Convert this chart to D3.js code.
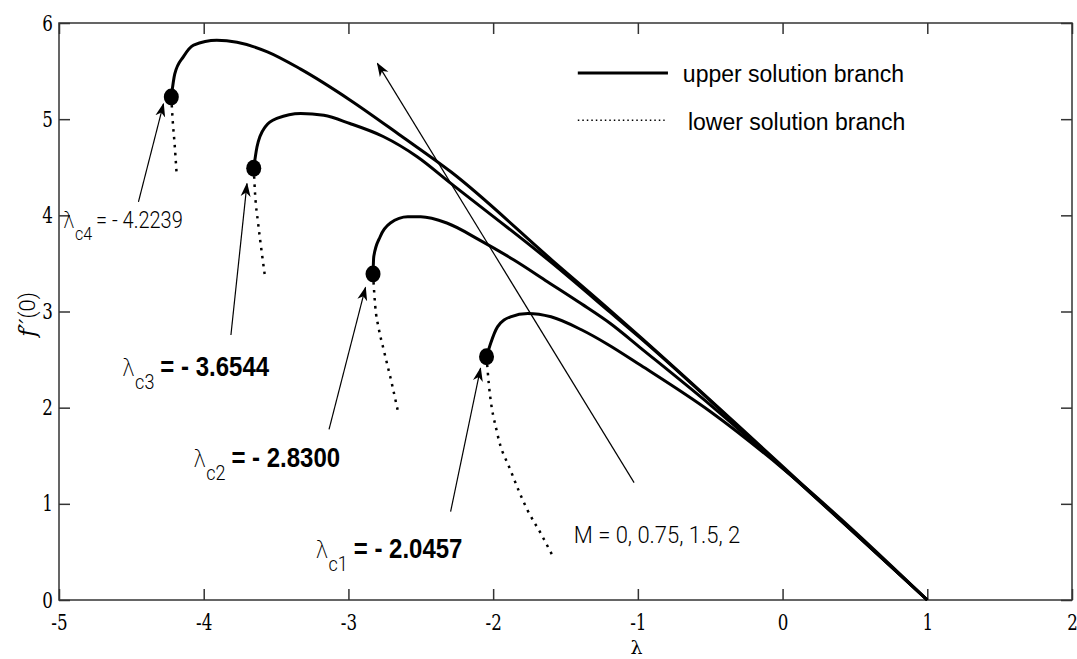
<!DOCTYPE html>
<html>
<head>
<meta charset="utf-8">
<script src="https://cdn.jsdelivr.net/npm/d3@7"></script>
<style>
    body { margin: 0; background: #fff; }
</style>
</head>
<body>
<svg id="chart"></svg>
<script>
// tick values
const lambdaTicks = [-5, -4, -3, -2, -1, 0, 1, 2];
const fppTicks = [0, 1, 2, 3, 4, 5, 6];

// upper solution branches [lambda, f''(0)]
const upperM0 = [[-2.0457, 2.53], [-2.017, 2.67], [-1.97, 2.84], [-1.88, 2.945], [-1.76, 2.98], [-1.60, 2.945],
    [-1.39, 2.81], [-1.21, 2.66], [-0.98, 2.44], [-0.5, 1.96], [0, 1.37], [1, 0]];
const upperM075 = [[-2.83, 3.39], [-2.825, 3.57], [-2.78, 3.78], [-2.71, 3.92], [-2.59, 3.985], [-2.50, 3.985],
    [-2.32, 3.92], [-2.09, 3.74], [-1.856, 3.535], [-1.625, 3.31], [-1.39, 3.08], [-1.19, 2.875], [-0.98, 2.62],
    [-0.5, 2.03], [0, 1.375], [1, 0]];
const upperM15 = [[-3.6544, 4.49], [-3.632, 4.71], [-3.575, 4.92], [-3.49, 5.01], [-3.33, 5.06], [-3.17, 5.04],
    [-2.99, 4.955], [-2.76, 4.82], [-2.525, 4.61], [-2.29, 4.33], [-1.59, 3.50], [-1.19, 2.99], [-0.98, 2.72],
    [0, 1.38], [1, 0]];
const upperM2 = [[-4.2239, 5.23], [-4.20, 5.47], [-4.14, 5.65], [-4.07, 5.77], [-3.91, 5.82], [-3.77, 5.80],
    [-3.56, 5.70], [-3.33, 5.52], [-2.99, 5.20], [-2.64, 4.83], [-2.29, 4.45], [-1.59, 3.53], [-1.19, 3.01],
    [-0.98, 2.73], [0, 1.39], [1, 0]];

// lower solution branches
const lowerM0 = [[-2.0457, 2.53], [-2.03, 2.25], [-1.971, 1.73], [-1.88, 1.35], [-1.763, 0.936], [-1.67, 0.69], [-1.579, 0.43]];
const lowerM075 = [[-2.83, 3.39], [-2.815, 3.06], [-2.79, 2.82], [-2.756, 2.60], [-2.70, 2.25], [-2.652, 1.92]];
const lowerM15 = [[-3.6544, 4.49], [-3.645, 4.22], [-3.625, 3.93], [-3.602, 3.65], [-3.579, 3.39]];
const lowerM2 = [[-4.2239, 5.23], [-4.215, 5.0], [-4.20, 4.72], [-4.188, 4.45]];

// critical points
const critNames = ['c1', 'c2', 'c3', 'c4'];
const critLambda = [-2.0457, -2.8300, -3.6544, -4.2239];
const critF = [2.53, 3.39, 4.49, 5.23];
const critText = ['= - 2.0457', '= - 2.8300', '= - 3.6544', '= - 4.2239'];

const width = 1077;
const height = 659;
const margin = { top: 23, right: 5, bottom: 59, left: 59 };

const serif = '"DejaVu Serif", serif';
const sans = '"Liberation Sans", Arial, sans-serif';
const light = 'Roboto, "Liberation Sans", sans-serif';

const svg = d3.select('#chart')
    .attr('width', width)
    .attr('height', height);

const x = d3.scaleLinear().domain([-5, 2]).range([margin.left, width - margin.right]);
const y = d3.scaleLinear().domain([0, 6]).range([height - margin.bottom, margin.top]);

// arrow marker
svg.append('defs')
    .append('marker')
    .attr('id', 'head')
    .attr('markerUnits', 'userSpaceOnUse')
    .attr('viewBox', '0 -6 14 12')
    .attr('refX', 13)
    .attr('refY', 0)
    .attr('markerWidth', 14)
    .attr('markerHeight', 12)
    .attr('orient', 'auto')
    .append('path')
    .attr('d', 'M0,-5L14,0L0,5L4,0Z')
    .attr('fill', '#000');

// axes with inward ticks; labels are narrow Times-like digits
const axisColor = '#333';
function styleAxis(g) {
    g.attr('font-family', serif).attr('font-size', 22);
    g.select('.domain').remove();
    g.selectAll('line').attr('stroke', axisColor).attr('stroke-width', 1.5);
    g.selectAll('text').attr('fill', '#000').attr('transform', 'scale(0.76,1)');
}

const fmt = d => String(d);

svg.append('g')
    .attr('transform', `translate(0,${y(0)})`)
    .call(d3.axisBottom(x).tickValues(lambdaTicks).tickSize(-11).tickPadding(14).tickFormat(fmt))
    .call(styleAxis);

svg.append('g')
    .attr('transform', `translate(0,${y(6)})`)
    .call(d3.axisTop(x).tickValues(lambdaTicks).tickSize(-11).tickFormat(''))
    .call(styleAxis);

svg.append('g')
    .attr('transform', `translate(${x(-5)},0)`)
    .call(d3.axisLeft(y).tickValues(fppTicks).tickSize(-11).tickPadding(8).tickFormat(fmt))
    .call(styleAxis);

svg.append('g')
    .attr('transform', `translate(${x(2)},0)`)
    .call(d3.axisRight(y).tickValues(fppTicks).tickSize(-11).tickFormat(''))
    .call(styleAxis);

svg.append('rect')
    .attr('x', x(-5))
    .attr('y', y(6))
    .attr('width', x(2) - x(-5))
    .attr('height', y(0) - y(6))
    .attr('fill', 'none')
    .attr('stroke', axisColor)
    .attr('stroke-width', 1.5);

// curves
const line = d3.line()
    .x(d => x(d[0]))
    .y(d => y(d[1]))
    .curve(d3.curveMonotoneX);

const plot = svg.append('g');

plot.selectAll('path.upper')
    .data([upperM0, upperM075, upperM15, upperM2])
    .join('path')
    .attr('class', 'upper')
    .attr('d', line)
    .attr('fill', 'none')
    .attr('stroke', '#000')
    .attr('stroke-width', 3);

plot.selectAll('path.lower')
    .data([lowerM0, lowerM075, lowerM15, lowerM2])
    .join('path')
    .attr('class', 'lower')
    .attr('d', line)
    .attr('fill', 'none')
    .attr('stroke', '#000')
    .attr('stroke-width', 2.5)
    .attr('stroke-dasharray', '2.5,5.5');

plot.selectAll('ellipse')
    .data(critLambda)
    .join('ellipse')
    .attr('cx', d => x(d))
    .attr('cy', (d, i) => y(critF[i]))
    .attr('rx', 7.5)
    .attr('ry', 8.5)
    .attr('fill', '#000');

// annotation arrows [tail, tip]
const critArrows = [
    [[-2.294, 0.918], [-2.087, 2.41]],
    [[-3.134, 1.775], [-2.882, 3.25]],
    [[-3.812, 2.755], [-3.701, 4.33]],
    [[-4.451, 4.14], [-4.278, 5.16]]
];
const mArrow = [[-1.026, 1.22], [-2.80, 5.58]];

plot.selectAll('line.arrow')
    .data(critArrows.concat([mArrow]))
    .join('line')
    .attr('class', 'arrow')
    .attr('x1', d => x(d[0][0]))
    .attr('y1', d => y(d[0][1]))
    .attr('x2', d => x(d[1][0]))
    .attr('y2', d => y(d[1][1]))
    .attr('stroke', '#000')
    .attr('stroke-width', 1.2)
    .attr('marker-end', 'url(#head)');

// critical value labels (slightly tall, as in the source figure)
const labelPos = [[-3.228, 0.437], [-4.073, 1.38], [-4.564, 2.33], [-4.972, 3.866]];
const labelBold = [true, true, true, false];

labelPos.forEach((p, i) => {
    const big = labelBold[i];
    const t = svg.append('text')
        .attr('transform', `translate(${x(p[0])},${y(p[1])}) scale(1,1.15)`)
        .attr('fill', '#000');
    t.append('tspan')
        .attr('font-family', '"DejaVu Sans", sans-serif')
        .attr('font-weight', 200)
        .attr('font-size', big ? 22 : 20)
        .text('λ');
    t.append('tspan')
        .attr('dy', big ? 11 : 10)
        .attr('font-family', light)
        .attr('font-weight', 300)
        .attr('font-size', big ? 18 : 16)
        .text(critNames[i]);
    t.append('tspan')
        .attr('dy', big ? -11 : -10)
        .attr('dx', big ? 6 : 4)
        .attr('font-family', big ? sans : light)
        .attr('font-weight', big ? 'bold' : 300)
        .attr('font-size', big ? 24 : 20)
        .text(critText[i]);
});

svg.append('text')
    .attr('transform', `translate(${x(-1.443)},${y(0.59)}) scale(1,1.1)`)
    .attr('font-family', light)
    .attr('font-weight', 300)
    .attr('font-size', 22)
    .text('M = 0, 0.75, 1.5, 2');

// legend
const legend = svg.append('g');
legend.append('line')
    .attr('x1', x(-1.415)).attr('x2', x(-0.792))
    .attr('y1', y(5.48)).attr('y2', y(5.48))
    .attr('stroke', '#000')
    .attr('stroke-width', 3);
legend.append('line')
    .attr('x1', x(-1.415)).attr('x2', x(-0.815))
    .attr('y1', y(4.99)).attr('y2', y(4.99))
    .attr('stroke', '#000')
    .attr('stroke-width', 1.5)
    .attr('stroke-dasharray', '1.5,3');
legend.append('text')
    .attr('x', x(-0.689))
    .attr('y', y(5.385))
    .attr('font-family', sans)
    .attr('font-size', 23)
    .text('upper solution branch');
legend.append('text')
    .attr('x', x(-0.654))
    .attr('y', y(4.886))
    .attr('font-family', sans)
    .attr('font-size', 23)
    .text('lower solution branch');

// axis titles
svg.append('text')
    .attr('x', x(-1.01))
    .attr('y', 654)
    .attr('text-anchor', 'middle')
    .attr('font-family', serif)
    .attr('font-size', 19)
    .text('λ');

const yTitle = svg.append('text')
    .attr('transform', `translate(35,${y(2.97)}) rotate(-90)`)
    .attr('text-anchor', 'middle')
    .attr('font-size', 22);
yTitle.append('tspan')
    .attr('font-family', serif)
    .attr('font-style', 'italic')
    .text('f′′');
yTitle.append('tspan')
    .attr('font-family', light)
    .attr('font-weight', 300)
    .text('(0)');
</script>
</body>
</html>
